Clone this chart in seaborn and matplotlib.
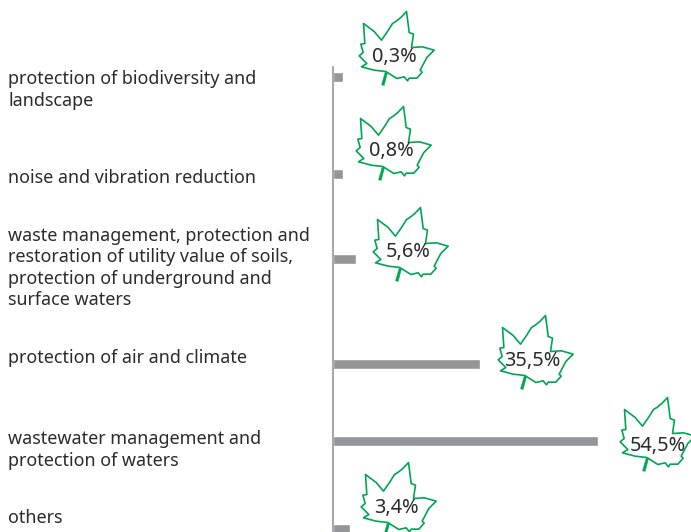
import numpy as np
import matplotlib
matplotlib.use('Agg')
import matplotlib.pyplot as plt
from matplotlib.path import Path
import seaborn as sns

categories = [
    'protection of biodiversity and\nlandscape',
    'noise and vibration reduction',
    'waste management, protection and\nrestoration of utility value of soils,\nprotection of underground and\nsurface waters',
    'protection of air and climate',
    'wastewater management and\nprotection of waters',
    'others',
]
share_labels = ['0,3%', '0,8%', '5,6%', '35,5%', '54,5%', '3,4%']
# bars in the source are not to scale with their labels, so lengths are read off the picture
bar_lengths = [2.1, 2.1, 4.7, 30.2, 54.5, 3.5]

# layout, in pixels of the 691x532 image
PX_PER_UNIT = 4.86
AXIS_PX = 333
bar_y = [77, 174, 259, 364, 441, 529]
label_y = [90, 178, 268, 358, 450, 518]
leaf_px = [(397, 47), (394, 142), (411, 243), (536, 351), (658, 433), (399, 498)]
value_px = [(394, 57), (391, 151), (408, 252), (532, 361), (658, 446), (396, 508)]

# leaf outline (3x zoom pixels)
leaf_outline = [
    (135, 212), (100, 208), (62, 198), (78, 188), (68, 178), (55, 165), (67, 155),
    (60, 130), (72, 128), (68, 68), (100, 92), (122, 118), (140, 92), (155, 68),
    (165, 62), (180, 50), (197, 32), (202, 70), (205, 95), (218, 100), (212, 140),
    (245, 138), (280, 148), (258, 170), (238, 208), (244, 214), (228, 232), (205, 232),
    (200, 240), (190, 228), (168, 233), (135, 212),
]
leaf_stem = [(133, 214), (140, 216), (130, 254), (122, 252), (133, 214)]
LEAF_CENTRE = (170, 140)


def make_marker(points):
    pts = np.array(points, dtype=float) - LEAF_CENTRE
    pts[:, 1] *= -1
    codes = [Path.MOVETO] + [Path.LINETO] * (len(pts) - 2) + [Path.CLOSEPOLY]
    # markersize is the full box of the rescaled path, converted from px to points
    size = 2 * np.abs(pts).max() / 3 * 72 / 100
    return Path(pts, codes), size


def to_x(px):
    return (px - AXIS_PX) / PX_PER_UNIT


sns.set_style('white')
plt.rcParams['font.family'] = ['Noto Sans', 'DejaVu Sans']

fig = plt.figure(figsize=(6.91, 5.32), dpi=100)
ax = fig.add_axes([0, 0, 1, 1])

sns.barplot(x=bar_lengths, y=bar_y, orient='h', native_scale=True, color='#939598',
            saturation=1, width=9.5 / 77, ax=ax)

ax.set_xlim(to_x(0), to_x(691))
ax.set_ylim(532, 0)
ax.axis('off')

ax.plot([0, 0], [67, 532], color='#a7a9ac', lw=1.5, zorder=4)

leaf, leaf_size = make_marker(leaf_outline)
stem, stem_size = make_marker(leaf_stem)
for (lx, ly), (vx, vy), txt in zip(leaf_px, value_px, share_labels):
    ax.plot([to_x(lx)], [ly], marker=leaf, ms=leaf_size, mfc='white', mec='#00a651',
            mew=1.2, ls='none', zorder=5, clip_on=False)
    ax.plot([to_x(lx)], [ly], marker=stem, ms=stem_size, mfc='#00a651', mec='#00a651',
            mew=0.3, ls='none', zorder=5, clip_on=False)
    ax.text(to_x(vx), vy, txt, ha='center', va='center', fontsize=14.3, color='#2b2b2b', zorder=6)

for name, y in zip(categories, label_y):
    ax.text(to_x(8), y, name, ha='left', va='center', fontsize=12.9, color='#2b2b2b',
            linespacing=1.25)

plt.savefig('out.png', dpi=100)
plt.close()
